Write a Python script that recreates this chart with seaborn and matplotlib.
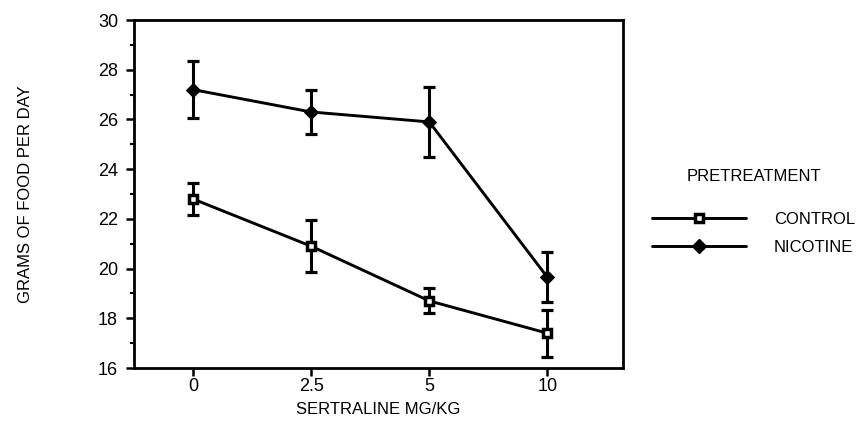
import matplotlib
matplotlib.use("Agg")
import matplotlib.pyplot as plt
from matplotlib.lines import Line2D
from matplotlib.ticker import MultipleLocator
import seaborn as sns
import pandas as pd

# Food intake after sertraline, by pretreatment group
doses = ["0", "2.5", "5", "10"]
control_mean = [22.8, 20.9, 18.7, 17.4]
control_err = [0.63, 1.05, 0.5, 0.95]
nicotine_mean = [27.2, 26.3, 25.9, 19.65]
nicotine_err = [1.15, 0.9, 1.4, 1.0]
y_ticks = [16, 18, 20, 22, 24, 26, 28, 30]

sns.set_theme(style="ticks")
plt.rcParams["font.family"] = ["Liberation Sans", "DejaVu Sans"]
plt.rcParams.update({
    "text.color": "black",
    "axes.labelcolor": "black",
    "xtick.color": "black",
    "ytick.color": "black",
})

pos = list(range(len(doses)))
df = pd.DataFrame({
    "pos": pos * 2,
    "grams": control_mean + nicotine_mean,
    "group": ["CONTROL"] * 4 + ["NICOTINE"] * 4,
})

fig = plt.figure(figsize=(8.66, 4.38), dpi=100)
ax = fig.add_axes([0.1547, 0.1598, 0.5647, 0.7945])

sns.lineplot(data=df, x="pos", y="grams", hue="group", style="group",
             palette={"CONTROL": "black", "NICOTINE": "black"},
             markers={"CONTROL": "s", "NICOTINE": "D"},
             dashes=False, linewidth=2.1, legend=False, ax=ax, zorder=3)

# open square for control, filled diamond for nicotine
ctrl_line, nic_line = ax.lines[0], ax.lines[1]
ctrl_line.set_markerfacecolor("white")
ctrl_line.set_markeredgecolor("black")
ctrl_line.set_markersize(6)
ctrl_line.set_markeredgewidth(2.5)
nic_line.set_markerfacecolor("black")
nic_line.set_markeredgecolor("black")
nic_line.set_markersize(7.5)

for means, errs in [(control_mean, control_err), (nicotine_mean, nicotine_err)]:
    ax.errorbar(pos, means, yerr=errs, fmt="none", ecolor="black",
                elinewidth=2.2, capsize=4.5, capthick=2.3, zorder=2)

ax.set_xlim(-0.5, 3.64)
ax.set_ylim(16, 30)
ax.set_xticks(pos)
ax.set_xticklabels(doses)
ax.set_yticks(y_ticks)
ax.yaxis.set_minor_locator(MultipleLocator(1))

for side in ["left", "right", "top", "bottom"]:
    ax.spines[side].set_linewidth(2)
    ax.spines[side].set_color("black")

ax.tick_params(axis="both", which="major", direction="out", length=5.5,
               width=1.8, labelsize=13)
ax.tick_params(axis="y", which="major", pad=6)
ax.tick_params(axis="x", which="major", pad=2)
ax.tick_params(axis="y", which="minor", direction="out", length=3, width=1.5)
ax.tick_params(axis="x", which="minor", bottom=False)

ax.set_xlabel("SERTRALINE MG/KG", fontsize=12, labelpad=5)
ax.set_ylabel("GRAMS OF FOOD PER DAY", fontsize=12, labelpad=47)

handles = [
    Line2D([], [], color="black", lw=2.1, marker="s", markersize=6,
           markerfacecolor="white", markeredgecolor="black", markeredgewidth=2.5),
    Line2D([], [], color="black", lw=2.1, marker="D", markersize=7.5,
           markerfacecolor="black"),
]
leg = fig.legend(handles, ["CONTROL", "NICOTINE"], title="PRETREATMENT",
                 loc="upper left", bbox_to_anchor=(0.736, 0.648),
                 frameon=False, fontsize=12, title_fontsize=12,
                 handlelength=5.6, handletextpad=1.7, labelspacing=0.8)
leg._legend_box.sep = 20

fig.savefig("out.png", dpi=100)
